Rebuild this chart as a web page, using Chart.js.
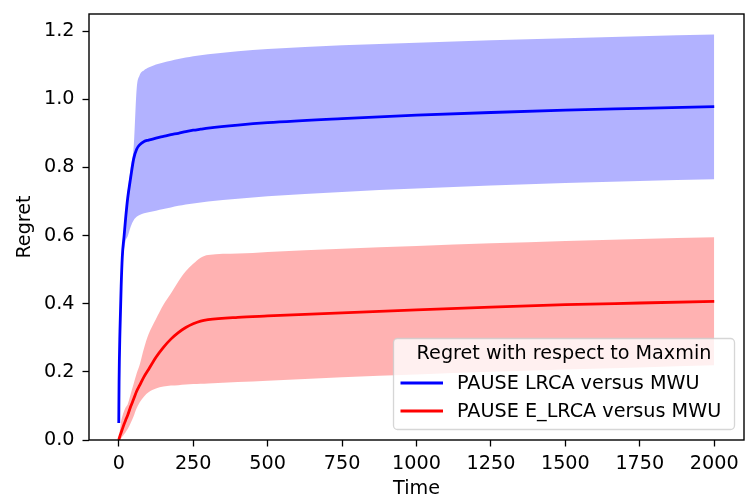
<!DOCTYPE html>
<html>
<head>
<meta charset="utf-8">
<script src="https://cdn.jsdelivr.net/npm/chart.js@4"></script>
<style>
  html, body { margin: 0; padding: 0; background: #fff; }
</style>
</head>
<body>
<canvas id="regretChart" width="745" height="501"></canvas>
<script>
// time steps (shared by every series)
const times = [0, 1, 4, 8, 12, 18, 23, 30, 40, 50, 60, 70, 85, 100, 125, 150, 175, 200, 225, 250, 275, 300, 400, 500, 750, 1000, 1250, 1500, 1750, 2000];

// PAUSE LRCA versus MWU: mean and band
const lrcaMean  = [0.05, 0.17, 0.32, 0.45, 0.54, 0.60, 0.65, 0.71, 0.77, 0.825, 0.853, 0.866, 0.876, 0.880, 0.886, 0.891, 0.896, 0.900, 0.905, 0.909, 0.912, 0.915, 0.924, 0.931, 0.943, 0.953, 0.961, 0.968, 0.973, 0.978];
const lrcaUpper = [0.05, 0.18, 0.34, 0.47, 0.56, 0.62, 0.67, 0.73, 0.80, 0.86, 1.03, 1.07, 1.085, 1.093, 1.102, 1.108, 1.113, 1.118, 1.122, 1.126, 1.129, 1.132, 1.141, 1.147, 1.158, 1.166, 1.173, 1.179, 1.185, 1.190];
const lrcaLower = [0.05, 0.16, 0.30, 0.43, 0.51, 0.56, 0.585, 0.598, 0.626, 0.645, 0.655, 0.660, 0.665, 0.668, 0.673, 0.678, 0.682, 0.687, 0.691, 0.694, 0.697, 0.700, 0.708, 0.715, 0.728, 0.738, 0.747, 0.754, 0.760, 0.765];

// PAUSE E_LRCA versus MWU: mean and band
const elrcaMean  = [0, 0.003, 0.012, 0.022, 0.032, 0.047, 0.058, 0.073, 0.098, 0.12, 0.143, 0.16, 0.186, 0.207, 0.243, 0.272, 0.296, 0.315, 0.330, 0.341, 0.349, 0.353, 0.360, 0.364, 0.373, 0.382, 0.390, 0.397, 0.402, 0.407];
const elrcaUpper = [0, 0.008, 0.03, 0.055, 0.07, 0.085, 0.095, 0.105, 0.135, 0.165, 0.195, 0.22, 0.27, 0.31, 0.355, 0.397, 0.43, 0.465, 0.495, 0.517, 0.535, 0.543, 0.547, 0.552, 0.561, 0.569, 0.577, 0.584, 0.590, 0.595];
const elrcaLower = [0, 0.001, 0.002, 0.005, 0.01, 0.017, 0.023, 0.032, 0.05, 0.07, 0.093, 0.11, 0.128, 0.14, 0.151, 0.157, 0.160, 0.161, 0.163, 0.164, 0.165, 0.166, 0.170, 0.174, 0.184, 0.192, 0.200, 0.207, 0.213, 0.219];

const xTicks = [0, 250, 500, 750, 1000, 1250, 1500, 1750, 2000];
const yTicks = [0, 0.2, 0.4, 0.6, 0.8, 1.0, 1.2];

const legendTitle = 'Regret with respect to Maxmin';
const seriesNames = ['PAUSE LRCA versus MWU', 'PAUSE E_LRCA versus MWU'];
const seriesColors = ['#0000ff', '#ff0000'];

const FONT = '"DejaVu Sans", sans-serif';
const FS = 19.2;

const pts = vals => times.map((t, i) => ({ x: t, y: vals[i] }));

// fixed axis sizes, no extra room for overhanging labels
const fixAxis = (ax, size) => {
  if (ax.isHorizontal()) ax.height = size; else ax.width = size;
  ax.paddingTop = ax.paddingBottom = ax.paddingLeft = ax.paddingRight = 0;
};

// frame around the plot area + legend box in the lower right
const frameAndLegend = {
  id: 'frameAndLegend',
  afterDraw(chart) {
    const { ctx, chartArea: a } = chart;
    ctx.save();
    ctx.strokeStyle = '#000';
    ctx.lineWidth = 1.4;
    ctx.strokeRect(a.left, a.top, a.right - a.left, a.bottom - a.top);

    // legend
    const bx = 393.5, by = 338.5, bw = 341, bh = 91, r = 4;
    ctx.beginPath();
    ctx.roundRect(bx, by, bw, bh, r);
    ctx.fillStyle = 'rgba(255,255,255,0.8)';
    ctx.fill();
    ctx.strokeStyle = 'rgba(204,204,204,0.8)';
    ctx.lineWidth = 1.3;
    ctx.stroke();

    ctx.font = FS + 'px ' + FONT;
    ctx.fillStyle = '#000';
    ctx.textBaseline = 'middle';
    ctx.textAlign = 'center';
    ctx.fillText(legendTitle, bx + bw / 2, 354);

    ctx.textAlign = 'left';
    const rowY = [383, 411];
    seriesNames.forEach((name, i) => {
      ctx.strokeStyle = seriesColors[i];
      ctx.lineWidth = 2.8;
      ctx.beginPath();
      ctx.moveTo(400.5, rowY[i]);
      ctx.lineTo(443, rowY[i]);
      ctx.stroke();
      ctx.fillText(name, 457, rowY[i] + 1);
    });
    ctx.restore();
  }
};

const band = (vals, color, fill) => ({
  data: pts(vals),
  borderWidth: 0,
  pointRadius: 0,
  backgroundColor: color,
  fill: fill,
  cubicInterpolationMode: 'monotone',
  order: 3
});

new Chart(document.getElementById('regretChart'), {
  type: 'line',
  data: {
    datasets: [
      { label: seriesNames[1], data: pts(elrcaMean), borderColor: seriesColors[1], borderWidth: 2.8,
        pointRadius: 0, fill: false, cubicInterpolationMode: 'monotone', order: 0 },
      { label: seriesNames[0], data: pts(lrcaMean), borderColor: seriesColors[0], borderWidth: 2.8,
        pointRadius: 0, fill: false, cubicInterpolationMode: 'monotone', order: 1 },
      band(lrcaUpper, 'rgba(0,0,255,0.3)', '+1'),
      band(lrcaLower, 'rgba(0,0,255,0.3)', false),
      band(elrcaUpper, 'rgba(255,0,0,0.3)', '+1'),
      band(elrcaLower, 'rgba(255,0,0,0.3)', false)
    ]
  },
  options: {
    responsive: false,
    animation: false,
    layout: { padding: { top: 14, right: 1, left: 0, bottom: 0 } },
    plugins: { legend: { display: false }, tooltip: { enabled: false } },
    scales: {
      x: {
        type: 'linear', min: -100, max: 2100,
        afterBuildTicks: ax => { ax.ticks = xTicks.map(v => ({ value: v })); },
        afterFit: ax => fixAxis(ax, 61),
        grid: { drawOnChartArea: false, tickLength: 6.5, tickColor: '#000', tickWidth: 1.3 },
        border: { display: false },
        ticks: { color: '#000', font: { family: FONT, size: FS }, padding: 6, maxRotation: 0, autoSkip: false,
                 callback: v => String(v) },
        title: { display: true, text: 'Time', color: '#000', font: { family: FONT, size: FS },
                 padding: { top: 0, bottom: 0.5 } }
      },
      y: {
        type: 'linear', min: 0, max: 1.25,
        afterBuildTicks: ax => { ax.ticks = yTicks.map(v => ({ value: v })); },
        afterFit: ax => fixAxis(ax, 89),
        grid: { drawOnChartArea: false, tickLength: 6.5, tickColor: '#000', tickWidth: 1.3 },
        border: { display: false },
        ticks: { color: '#000', font: { family: FONT, size: FS }, padding: 8, callback: v => v.toFixed(1) },
        title: { display: true, text: 'Regret', color: '#000', font: { family: FONT, size: FS },
                 padding: { top: 13.5, bottom: 0 } }
      }
    }
  },
  plugins: [frameAndLegend]
});
</script>
</body>
</html>
